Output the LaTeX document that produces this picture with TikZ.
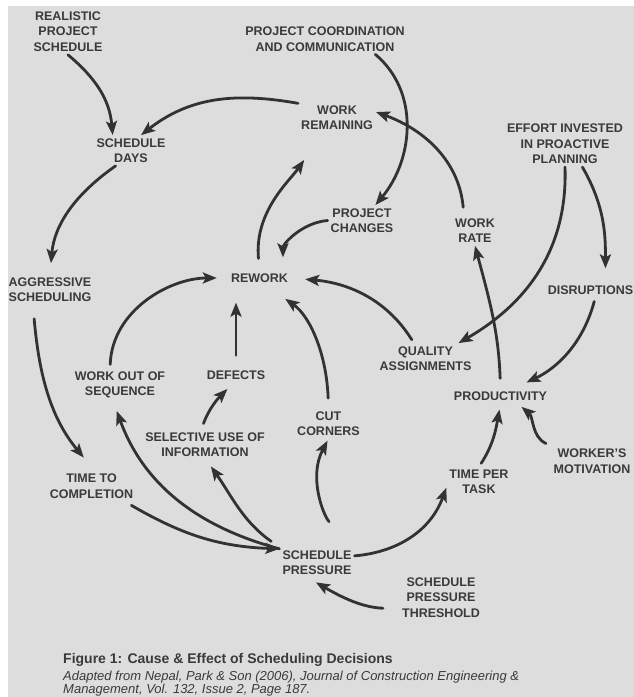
\documentclass[tikz,border=0pt]{standalone}
\usepackage{fontspec}
\setmainfont{Liberation Sans}
\usetikzlibrary{arrows.meta}
\definecolor{paper}{RGB}{221,221,221}
\definecolor{ink}{RGB}{58,58,58}
\definecolor{arrowgray}{RGB}{50,50,50}
\begin{document}
\begin{tikzpicture}[x = 1pt, y = 1pt,
		lbl/.style = {font = \fontsize{12.5}{15.5}\selectfont\bfseries, text = ink, align = center, inner sep = 3pt},
		captxt/.style = {anchor = base west, text = ink, inner sep = 0pt},
		arr/.style = {draw = arrowgray, line width = 2.8pt, line cap = round, -{Stealth[length = 14pt, width = 11pt, inset = 3pt]}}]
	\fill[white] (0, 0) rectangle (634, 697);
	\fill[paper] (8, 0) rectangle (634, 691);
	\useasboundingbox (0, 0) rectangle (634, 697);
	\node[lbl] (rps) at (68, 665.3) {REALISTIC\\PROJECT\\SCHEDULE};
	\node[lbl] (pcc) at (325, 658) {PROJECT COORDINATION\\AND COMMUNICATION};
	\node[lbl] (wrem) at (337, 579.5) {WORK\\REMAINING};
	\node[lbl] (sd) at (131, 546.5) {SCHEDULE\\DAYS};
	\node[lbl] (eipp) at (565, 553) {EFFORT INVESTED\\IN PROACTIVE\\PLANNING};
	\node[lbl] (pch) at (362, 476.5) {PROJECT\\CHANGES};
	\node[lbl] (wr) at (475, 466.5) {WORK\\RATE};
	\node[lbl] (rw) at (259.5, 419) {REWORK};
	\node[lbl] (ags) at (50, 407.5) {AGGRESSIVE\\SCHEDULING};
	\node[lbl] (dis) at (590.5, 407) {DISRUPTIONS};
	\node[lbl] (qa) at (425.5, 338.5) {QUALITY\\ASSIGNMENTS};
	\node[lbl] (prod) at (500.5, 301) {PRODUCTIVITY};
	\node[lbl] (wos) at (120, 312) {WORK OUT OF\\SEQUENCE};
	\node[lbl] (def) at (236, 322) {DEFECTS};
	\node[lbl] (cc) at (328.5, 273.5) {CUT\\CORNERS};
	\node[lbl] (sui) at (205, 252.5) {SELECTIVE USE OF\\INFORMATION};
	\node[lbl] (wm) at (592, 236) {WORKER'S\\MOTIVATION};
	\node[lbl] (tpt) at (479, 215) {TIME PER\\TASK};
	\node[lbl] (ttc) at (91.5, 211) {TIME TO\\COMPLETION};
	\node[lbl] (sp) at (317, 134.5) {SCHEDULE\\PRESSURE};
	\node[lbl] (spt) at (441, 99.5) {SCHEDULE\\PRESSURE\\THRESHOLD};
	\draw[arr] (rps.south) to[out = -40, in = 95] (sd.140);
	\draw[arr] (wrem.160) to[out = 170, in = 38] (sd.57);
	\draw[arr, shorten > = 11pt] (sd.225) to[out = 215, in = 85] (ags.90);
	\draw[arr, shorten < = 14pt, shorten > = 17pt] (ags.222) to[out = -85, in = 130] (ttc.78);
	\draw[arr, shorten < = 8pt] (ttc.-25) to[out = -30, in = 178] (sp.160);
	\draw[arr, shorten > = 10pt] (sp.160) to[out = 165, in = -70] (wos.248);
	\draw[arr, shorten < = 10pt, shorten > = 8pt] (sp.north west) to[out = 145, in = -55] (sui.275);
	\draw[arr, shorten < = 6pt, shorten > = 9pt] (sui.103) to[out = 70, in = 225] (def.254);
	\draw[arr, shorten < = 12pt, shorten > = 17pt] (def.north) -- (def.north |- rw.south);
	\draw[arr, shorten < = 4pt, shorten > = 11pt] (wos.121) to[out = 88, in = 180] (rw.west);
	\draw[arr, shorten < = 10pt, shorten > = 23pt] (cc.north) to[out = 92, in = -35] (rw.-48);
	\draw[arr, shorten < = 36pt, shorten > = 2pt] (sp.north east) to[out = 135, in = -118] (cc.south);
	\draw[arr, shorten < = 4pt, shorten > = 14pt] (qa.127) to[out = 122, in = -5] (rw.east);
	\draw[arr, shorten < = 12pt, shorten > = 33pt] (rw.north) to[out = 95, in = -125] (wrem.228);
	\draw[arr, shorten > = 13pt] (pch.west) to[out = 185, in = 90] (rw.18);
	\draw[arr] (pcc.-17) to[out = -40, in = 50] (pch.49);
	\draw[arr, shorten < = 8pt] (wr.126) to[out = 95, in = -20] (wrem.8);
	\draw[arr, shorten < = 10pt] (prod.north) to[out = 92, in = -75] (wr.south);
	\draw[arr] (eipp.south) to[out = -88, in = 30] (qa.25);
	\draw[arr, shorten > = 14pt] (eipp.-53) to[out = -60, in = 90] (dis.27);
	\draw[arr, shorten < = 4pt, shorten > = 14pt] (dis.-58) to[out = -105, in = 25] (prod.30);
	\draw[arr, shorten < = 5pt, shorten > = 5pt] (wm.north west) to[out = 155, in = -40] (prod.-24);
	\draw[arr, shorten < = 4pt, shorten > = 6pt] (tpt.north) to[out = 57, in = -100] (prod.south);
	\draw[arr] (sp.10) to[out = 5, in = -110] (tpt.190);
	\draw[arr, shorten < = 16pt, shorten > = 9pt] (spt.195) to[out = 178, in = -30] (sp.240);
	\node[captxt, font = \fontsize{14}{16}\selectfont\bfseries] (title) at (63, 34) {Figure 1: Cause \& Effect of Scheduling Decisions};
	\node[captxt, font = \fontsize{13}{14}\selectfont\itshape] (src) at (63, 16.8) {Adapted from Nepal, Park \& Son (2006), Journal of Construction Engineering \&};
	\node[captxt, font = \fontsize{13}{14}\selectfont\itshape] (ref) at (63, 3) {Management, Vol. 132, Issue 2, Page 187.};
\end{tikzpicture}
\end{document}
